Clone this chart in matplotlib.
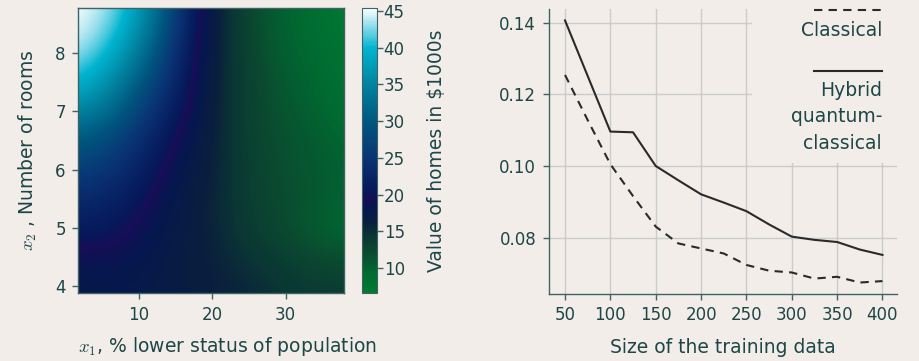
import numpy as np
import matplotlib
matplotlib.use("Agg")
import matplotlib.pyplot as plt
from matplotlib.colors import LinearSegmentedColormap, Normalize
from matplotlib.patches import Rectangle
from matplotlib.lines import Line2D

plt.rcParams['font.family'] = ['DejaVu Sans']
plt.rcParams['mathtext.fontset'] = 'cm'

BG = '#f2ede9'
TXT = '#1d4646'
SPINE = '#3f6262'
GRID = '#c9cccb'
LINE = '#2a2a2a'
LABEL_FS = 13.5
TICK_FS = 12

# ---- heatmap data (predicted home value, $1000s) ----
lstat = [1.73, 5.76, 9.78, 13.81, 17.84, 21.87, 25.89, 29.92, 33.94, 37.97]
rooms = [3.87, 4.42, 4.96, 5.51, 6.05, 6.60, 7.15, 7.69, 8.24, 8.78]
# rows: rooms (bottom -> top), cols: lstat (left -> right)
value = [
    [17.5, 17.5, 17.5, 17.0, 16.5, 16.0, 15.5, 14.5, 14.0, 14.0],
    [18.5, 18.5, 18.0, 17.0, 16.5, 15.5, 14.5, 13.5, 12.5, 12.0],
    [21.0, 20.5, 19.0, 17.5, 16.5, 15.0, 13.5, 12.0, 10.5, 9.5],
    [23.5, 22.5, 20.5, 18.0, 16.5, 15.0, 13.0, 12.0, 11.0, 10.0],
    [27.0, 25.5, 22.5, 19.0, 17.0, 15.0, 13.0, 11.5, 11.0, 10.0],
    [31.0, 29.0, 25.0, 20.5, 17.5, 15.0, 12.5, 11.5, 10.5, 9.5],
    [37.0, 34.0, 28.5, 23.0, 18.0, 15.0, 12.5, 11.0, 10.0, 8.5],
    [41.5, 38.0, 32.5, 25.5, 18.5, 15.0, 12.5, 10.5, 9.5, 8.0],
    [44.5, 41.5, 36.0, 28.0, 19.2, 15.0, 12.0, 10.0, 9.0, 7.5],
    [45.4, 43.5, 38.5, 30.0, 19.8, 15.0, 12.0, 10.0, 8.5, 6.6],
]

# ---- learning curves ----
train_size = [50, 75, 100, 125, 150, 175, 200, 225, 250, 275, 300, 325, 350, 375, 400]
classical = [0.1254, 0.1128, 0.1005, 0.0916, 0.0831, 0.0784, 0.0770, 0.0756, 0.0724,
             0.0708, 0.0703, 0.0686, 0.0691, 0.0675, 0.0679]
hybrid = [0.1406, 0.1251, 0.1096, 0.1094, 0.1000, 0.0960, 0.0921, 0.0898, 0.0874,
          0.0837, 0.0803, 0.0794, 0.0788, 0.0767, 0.0752]

cmap = LinearSegmentedColormap.from_list('homes', [
    (0.00, '#007a33'),
    (0.07, '#006a31'),
    (0.14, '#0b4a30'),
    (0.20, '#0a3634'),
    (0.245, '#0a1f3e'),
    (0.30, '#061650'),
    (0.33, '#170e57'),
    (0.355, '#06185a'),
    (0.48, '#0a3575'),
    (0.60, '#00567f'),
    (0.73, '#00829f'),
    (0.86, '#00b4cf'),
    (0.93, '#7fd8e8'),
    (1.00, '#ffffff'),
])
norm = Normalize(vmin=6.6, vmax=45.4)

fig = plt.figure(figsize=(9.2, 3.61), dpi=100, facecolor=BG)

# ---- left: heatmap ----
ax1 = fig.add_axes([0.0851, 0.1875, 0.2888, 0.7903])
dx = (lstat[-1] - lstat[0]) / (len(lstat) - 1)
dy = (rooms[-1] - rooms[0]) / (len(rooms) - 1)
img = ax1.imshow(np.array(value), cmap=cmap, norm=norm, origin='lower',
                 interpolation='bicubic', aspect='auto',
                 extent=[lstat[0] - dx / 2, lstat[-1] + dx / 2,
                         rooms[0] - dy / 2, rooms[-1] + dy / 2])
ax1.set_xlim(lstat[0], lstat[-1])
ax1.set_ylim(rooms[0], rooms[-1])
ax1.set_xticks([10, 20, 30])
ax1.set_yticks([4, 5, 6, 7, 8])
ax1.set_ylabel(r'$x_2$ , Number of rooms', color=TXT, fontsize=LABEL_FS, labelpad=12)
for s in ax1.spines.values():
    s.set_color(SPINE)
    s.set_linewidth(1.0)
ax1.tick_params(colors=SPINE, labelcolor=TXT, labelsize=TICK_FS, length=4, width=1, pad=5)

cax = fig.add_axes([0.3932, 0.1884, 0.0163, 0.7895])
cb = fig.colorbar(img, cax=cax)
cb.set_ticks([10, 15, 20, 25, 30, 35, 40, 45])
cb.outline.set_edgecolor(SPINE)
cb.ax.tick_params(colors=SPINE, labelcolor=TXT, labelsize=TICK_FS, length=4, width=1, pad=1)
cb.set_label('Value of homes in \\$1000s', color=TXT, fontsize=LABEL_FS, labelpad=16)

fig.text(0.247, 0.039, r'$x_1$, % lower status of population', color=TXT,
         fontsize=LABEL_FS, ha='center', va='center')

# ---- right: training curves ----
ax2 = fig.add_axes([0.5964, 0.1856, 0.3786, 0.7886])
ax2.set_facecolor(BG)
ax2.set_axisbelow(True)
ax2.grid(True, color=GRID, linewidth=1.0)
ax2.plot(train_size, classical, color=LINE, linewidth=1.5, linestyle=(0, (4, 3)), zorder=3)
ax2.plot(train_size, hybrid, color=LINE, linewidth=1.5, zorder=3)
ax2.set_xlim(32, 416)
ax2.set_ylim(0.0643, 0.1437)
ax2.set_xticks([50, 100, 150, 200, 250, 300, 350, 400])
ax2.set_yticks([0.08, 0.10, 0.12, 0.14])
ax2.set_yticklabels(['0.08', '0.10', '0.12', '0.14'])
ax2.set_xlabel('Size of the training data', color=TXT, fontsize=LABEL_FS, labelpad=10)
for side in ['top', 'right']:
    ax2.spines[side].set_visible(False)
for side in ['left', 'bottom']:
    ax2.spines[side].set_color(SPINE)
    ax2.spines[side].set_linewidth(1.0)
ax2.tick_params(colors=SPINE, labelcolor=TXT, labelsize=TICK_FS, length=4, width=1, pad=5)

# legend panel (covers grid behind it)
ax2.add_patch(Rectangle((0.585, 0.46), 0.415, 0.54, transform=ax2.transAxes,
                        facecolor=BG, edgecolor='none', zorder=1.5))
ax2.add_line(Line2D([0.762, 0.957], [0.9975, 0.9975], transform=ax2.transAxes,
                    color=LINE, linewidth=1.5, linestyle=(0, (4, 3)), zorder=4, clip_on=False))
ax2.text(0.957, 0.924, 'Classical', transform=ax2.transAxes, ha='right', va='center',
         color=TXT, fontsize=LABEL_FS, zorder=4)
ax2.add_line(Line2D([0.762, 0.957], [0.783, 0.783], transform=ax2.transAxes,
                    color=LINE, linewidth=1.5, zorder=4))
for t, yy in zip(['Hybrid', 'quantum-', 'classical'], [0.714, 0.622, 0.527]):
    ax2.text(0.957, yy, t, transform=ax2.transAxes, ha='right', va='center',
             color=TXT, fontsize=LABEL_FS, zorder=4)

fig.savefig('out.png', dpi=100, facecolor=BG)
